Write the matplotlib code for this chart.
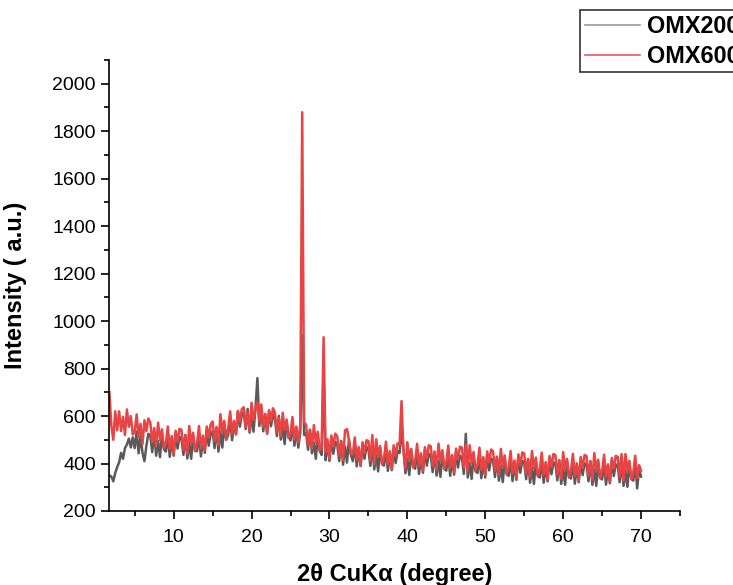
import numpy as np
import matplotlib
matplotlib.use("Agg")
import matplotlib.pyplot as plt

plt.rcParams['font.family'] = ['Liberation Sans', 'DejaVu Sans']

# 2-theta scan, 0.25 degree step
two_theta = np.arange(1.75, 70.01, 0.25)

omx600 = [
    700,
    560, 500, 620, 540,   # 2
    620, 537, 597, 520,   # 3
    628, 555, 600, 522,   # 4
    535, 607, 513, 567,   # 5
    482, 582, 536, 590,   # 6
    573, 490, 550, 473,   # 7
    572, 499, 544, 466,   # 8
    484, 556, 462, 516,   # 9
    438, 538, 492, 546,   # 10
    542, 459, 519, 442,   # 11
    558, 485, 530, 452,   # 12
    486, 558, 464, 518,   # 13
    456, 556, 510, 564,   # 14
    577, 494, 554, 477,   # 15
    608, 535, 580, 502,   # 16
    548, 620, 526, 580,   # 17
    522, 622, 576, 630,   # 18
    637, 554, 614, 537,   # 19
    656, 583, 628, 660,   # 20
    577, 649, 555, 609,   # 21
    525, 625, 579, 633,   # 22
    615, 532, 592, 515,   # 23
    614, 541, 586, 508,   # 24
    524, 596, 502, 556,   # 25
    490, 560, 1880, 575,  # 26
    563, 480, 540, 463,   # 27
    562, 489, 534, 456,   # 28
    470, 932, 448, 502,   # 29
    418, 518, 472, 526,   # 30
    515, 432, 492, 415,   # 31
    540, 545, 500, 440,   # 32
    438, 510, 416, 470,   # 33
    390, 490, 444, 498,   # 34
    495, 412, 520, 395,   # 35
    502, 429, 474, 396,   # 36
    420, 492, 398, 452,   # 37
    377, 477, 431, 485,   # 38
    479, 663, 456, 379,   # 39
    490, 417, 462, 384,   # 40
    411, 483, 389, 443,   # 41
    369, 469, 423, 477,   # 42
    473, 390, 450, 373,   # 43
    484, 411, 456, 378,   # 44
    404, 476, 382, 436,   # 45
    363, 463, 417, 471,   # 46
    467, 384, 480, 367,   # 47
    477, 404, 449, 371,   # 48
    395, 467, 373, 427,   # 49
    351, 451, 405, 459,   # 50
    452, 369, 429, 352,   # 51
    462, 389, 434, 356,   # 52
    381, 453, 359, 413,   # 53
    339, 439, 393, 447,   # 54
    442, 359, 419, 342,   # 55
    453, 380, 425, 347,   # 56
    374, 446, 352, 406,   # 57
    332, 432, 386, 440,   # 58
    436, 353, 413, 336,   # 59
    448, 375, 420, 342,   # 60
    369, 441, 347, 401,   # 61
    328, 428, 382, 436,   # 62
    432, 349, 409, 332,   # 63
    444, 371, 416, 338,   # 64
    365, 437, 343, 397,   # 65
    324, 424, 378, 432,   # 66
    428, 345, 440, 328,   # 67
    440, 367, 412, 334,   # 68
    361, 433, 339, 393,   # 69
    370,
]

omx200 = [
    350,
    345, 325, 360, 385,   # 2
    405, 445, 420, 465,   # 3
    480, 505, 468, 510,   # 4
    465, 535, 443, 515,   # 5
    445, 410, 475, 525,   # 6
    518, 448, 533, 433,   # 7
    495, 427, 523, 460,   # 8
    450, 520, 428, 500,   # 9
    433, 528, 463, 513,   # 10
    506, 436, 521, 421,   # 11
    488, 420, 516, 453,   # 12
    452, 522, 430, 502,   # 13
    445, 540, 475, 525,   # 14
    535, 465, 550, 450,   # 15
    535, 467, 563, 500,   # 16
    520, 590, 498, 570,   # 17
    525, 620, 555, 605,   # 18
    615, 545, 630, 530,   # 19
    602, 534, 630, 760,   # 20
    558, 628, 536, 608,   # 21
    527, 622, 557, 607,   # 22
    586, 516, 601, 501,   # 23
    550, 482, 578, 515,   # 24
    497, 567, 475, 547,   # 25
    467, 530, 940, 520,   # 26
    528, 458, 543, 443,   # 27
    488, 420, 516, 453,   # 28
    436, 790, 414, 486,   # 29
    411, 506, 441, 491,   # 30
    480, 410, 495, 395,   # 31
    472, 404, 500, 437,   # 32
    410, 480, 388, 460,   # 33
    390, 485, 420, 470,   # 34
    460, 390, 475, 375,   # 35
    435, 367, 463, 400,   # 36
    391, 461, 369, 441,   # 37
    372, 467, 402, 452,   # 38
    444, 540, 459, 359,   # 39
    420, 352, 448, 385,   # 40
    378, 448, 356, 428,   # 41
    361, 456, 391, 441,   # 42
    434, 364, 449, 349,   # 43
    412, 344, 440, 377,   # 44
    370, 440, 348, 420,   # 45
    353, 448, 383, 433,   # 46
    426, 356, 525, 341,   # 47
    403, 335, 431, 368,   # 48
    360, 430, 338, 410,   # 49
    341, 436, 371, 421,   # 50
    413, 343, 428, 328,   # 51
    390, 322, 418, 355,   # 52
    348, 418, 326, 398,   # 53
    331, 426, 361, 411,   # 54
    404, 334, 419, 319,   # 55
    382, 314, 410, 347,   # 56
    341, 411, 319, 391,   # 57
    325, 420, 355, 405,   # 58
    399, 329, 414, 314,   # 59
    378, 310, 406, 343,   # 60
    337, 407, 315, 387,   # 61
    321, 416, 351, 401,   # 62
    395, 325, 410, 310,   # 63
    374, 306, 402, 339,   # 64
    333, 403, 311, 383,   # 65
    317, 412, 347, 397,   # 66
    391, 321, 406, 306,   # 67
    370, 302, 398, 335,   # 68
    328, 398, 295, 378,   # 69
    345,
]

fig = plt.figure(figsize=(7.33, 5.85), dpi=100)
ax = fig.add_axes([0.1487, 0.1265, 0.7790, 0.7709])

ax.plot(two_theta, omx200, color='#5a5a5a', lw=1.8, label='OMX200')
ax.plot(two_theta, omx600, color='#e84444', lw=1.8, label='OMX600')

ax.set_xlim(1.7, 75)
ax.set_ylim(200, 2100)
ax.set_xticks([10, 20, 30, 40, 50, 60, 70])
ax.set_xticks(np.arange(5, 76, 10), minor=True)
ax.set_yticks(np.arange(200, 2001, 200))
ax.set_yticks(np.arange(300, 2101, 200), minor=True)

for side in ['top', 'right']:
    ax.spines[side].set_visible(False)
for side in ['left', 'bottom']:
    ax.spines[side].set_linewidth(1.2)

ax.tick_params(which='major', direction='out', length=6, width=1.2, labelsize=14)
ax.tick_params(axis='x', which='major', pad=7)
ax.tick_params(which='minor', direction='out', length=3.5, width=1.2)

ax.set_xlabel('2θ CuKα (degree)', fontsize=17, fontweight='bold', labelpad=12)
ax.set_ylabel('Intensity ( a.u.)', fontsize=17, fontweight='bold', labelpad=18)

leg = fig.legend(loc='upper left', bbox_to_anchor=(580 / 733, 1 - 10 / 585),
                 borderaxespad=0, fancybox=False, edgecolor='#333333', framealpha=1,
                 handlelength=2.35, handletextpad=0.3, borderpad=0.2,
                 labelspacing=0.3, prop={'weight': 'bold', 'size': 16.8})
leg.get_frame().set_linewidth(1.2)
leg.get_lines()[0].set_color('#9a9a9a')
leg.get_lines()[1].set_color('#f05a5a')
for line in leg.get_lines():
    line.set_linewidth(1.2)

fig.savefig('out.png', dpi=100, facecolor='white')
